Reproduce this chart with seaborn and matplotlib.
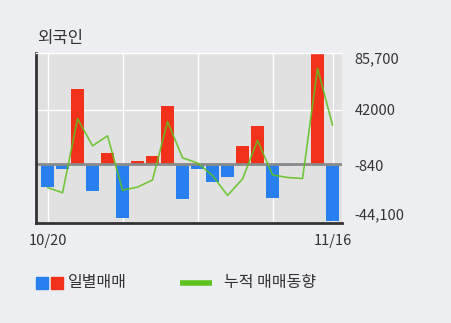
import matplotlib
matplotlib.use("Agg")
import matplotlib.pyplot as plt
import seaborn as sns
import pandas as pd
import numpy as np
from matplotlib.patches import Rectangle
from matplotlib.lines import Line2D

dates = ["10/20", "10/21", "10/22", "10/23", "10/26", "10/27", "10/28", "10/29", "10/30",
         "11/02", "11/03", "11/04", "11/05", "11/06", "11/09", "11/10", "11/11", "11/12",
         "11/13", "11/16"]
daily = [-18600, -3900, 57900, -21700, 8300, -42100, 2100, 5900, 44700, -27900,
         -3900, -14700, -10800, 13700, 29200, -27100, -1800, 0, 85800, -44400]
cumulative = [-18600, -22700, 35100, 13900, 21700, -20700, -18300, -12700, 32800, 4600,
              500, -9300, -24800, -11900, 18100, -8800, -10800, -11600, 74400, 30000]
ytick_labels = ["85,700", "42000", "-840", "-44,100"]
xtick_labels = ["10/20", "11/16"]

sns.set_style("white")
plt.rcParams['font.family'] = ['Noto Sans CJK KR', 'DejaVu Sans']

RED = "#f2311b"
BLUE = "#2880ee"
GREEN = "#5fc21e"
FIG_BG = "#edeef2"
AX_BG = "#e1e1e1"
TXT = "#333333"

df = pd.DataFrame({"date": dates, "daily": daily, "cum": cumulative,
                   "idx": np.arange(len(dates))})
df["sign"] = np.where(df["daily"] >= 0, "buy", "sell")

fig = plt.figure(figsize=(4.51, 3.23), dpi=100, facecolor=FIG_BG)
ax = fig.add_axes([36/451, 1-223/323, (342-36)/451, (223-53)/323])
ax.set_facecolor(AX_BG)

sns.barplot(data=df, x="date", y="daily", hue="sign", order=dates,
            palette={"buy": RED, "sell": BLUE}, dodge=False, width=0.87,
            legend=False, saturation=1, linewidth=0, ax=ax, zorder=2)

ax.set_xlim(-0.77, 19.63)
ax.set_ylim(-46300, 86335)

for gx in [0, 5, 10, 15, 19]:
    ax.axvline(gx, color="white", lw=1, zorder=1)
ax.axhline(42000, color="white", lw=1, zorder=1)
ax.axhline(0, color="#8a8a8a", lw=2, zorder=2.5)

sns.lineplot(data=df, x="idx", y="cum", color=GREEN, lw=1.2, alpha=0.85, ax=ax, zorder=3)

ax.yaxis.tick_right()
ax.set_yticks([82500, 42000, -1500, -39000], ytick_labels)
ax.set_xticks([0, 19], xtick_labels)
ax.tick_params(axis="y", length=0, pad=9, labelsize=10.5, labelcolor=TXT)
ax.tick_params(axis="x", length=0, pad=8, labelsize=10.5, labelcolor=TXT)
ax.set_xlabel("")
ax.set_ylabel("")

ax.spines["right"].set_visible(False)
ax.spines["top"].set_color("white")
ax.spines["top"].set_linewidth(1)
ax.spines["left"].set_color("#333333")
ax.spines["left"].set_linewidth(2)
ax.spines["bottom"].set_color("#333333")
ax.spines["bottom"].set_linewidth(2)

fig.text(37/451, 1-39/323, "외국인", fontsize=12, color=TXT, ha="left", va="center")

# legend
fig.patches.append(Rectangle((36/451, 1-289/323), 12/451, 12/323, color=BLUE,
                             transform=fig.transFigure, figure=fig))
fig.patches.append(Rectangle((51/451, 1-289/323), 12/451, 12/323, color=RED,
                             transform=fig.transFigure, figure=fig))
fig.text(68/451, 1-283/323, "일별매매", fontsize=11.5, color=TXT, ha="left", va="center")
fig.lines.append(Line2D([180/451, 212/451], [1-283/323, 1-283/323], color=GREEN, lw=4,
                        solid_capstyle="butt", transform=fig.transFigure, figure=fig))
fig.text(224/451, 1-283/323, "누적 매매동향", fontsize=11.5, color=TXT, ha="left", va="center")

fig.savefig("out.png", dpi=100, facecolor=FIG_BG)
